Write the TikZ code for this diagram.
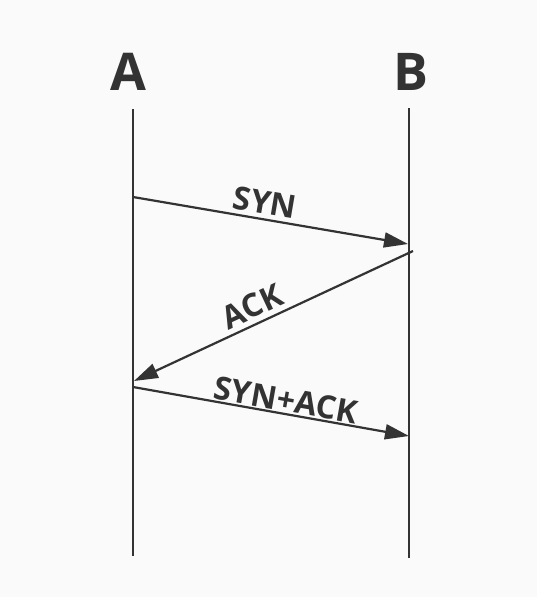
\documentclass[tikz,border=0pt]{standalone}
\usepackage{fontspec}
\setmainfont{Open Sans}
\usetikzlibrary{arrows.meta,positioning}
\definecolor{ink}{HTML}{333333}
\definecolor{paper}{HTML}{FAFAFA}
\tikzset{>={Triangle[length=24pt,width=15pt]},
  lifeline/.style={draw=ink,line width=2.4pt},
  msg/.style={->,draw=ink,line width=2.2pt},
  hostlabel/.style={anchor=base,inner sep=0pt,text=ink,
    font=\fontsize{52}{52}\selectfont\bfseries},
  msglabel/.style={sloped,above,inner sep=4pt,text=ink,
    font=\fontsize{32}{32}\selectfont\bfseries}}
\begin{document}
\begin{tikzpicture}[x=1pt,y=-1pt]
\fill[paper](0,0)rectangle(537,597);
\useasboundingbox(0,0)rectangle(537,597);
% hosts and lifelines
\node[hostlabel](hostA)at(128,90){A};
\node[hostlabel](hostB)at(411,90){B};
\coordinate(topA)at(133,109);\coordinate(botA)at(133,556);
\coordinate(topB)at(409,108);\coordinate(botB)at(409,558);
\draw[lifeline](topA)--(botA);
\draw[lifeline](topB)--(botB);
% message end points
\coordinate(synS)at(133,197);\coordinate(synE)at(408,244);
\coordinate(ackS)at(413,251);\coordinate(ackE)at(134,381);
\coordinate(saS)at(133,387);\coordinate(saE)at(409,436);
\draw[msg](synS)--(synE)node[msglabel,pos=.47]{SYN};
\draw[msg](ackS)--(ackE)node[msglabel,pos=.55,inner sep=5pt]{ACK};
\draw[msg](saS)--(saE)node[msglabel,pos=.545,inner sep=1pt]{SYN+ACK};
\end{tikzpicture}
\end{document}
